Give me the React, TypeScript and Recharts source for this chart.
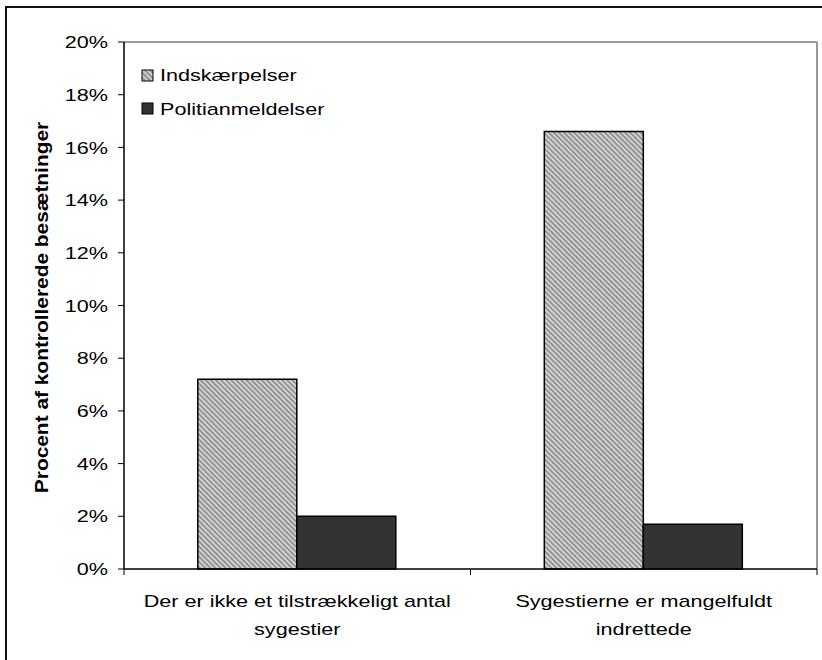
import { BarChart, Bar, XAxis, YAxis, Legend } from 'recharts'

// kategorier (to linjer pr. etiket som i originalen)
const categories = ['Der er ikke et tilstrækkeligt antal sygestier', 'Sygestierne er mangelfuldt indrettede']
const categoryLines = [
  ['Der er ikke et tilstrækkeligt antal', 'sygestier'],
  ['Sygestierne er mangelfuldt', 'indrettede'],
]
const seriesNames = ['Indskærpelser', 'Politianmeldelser']
const indskaerpelser = [0.072, 0.166]
const politianmeldelser = [0.02, 0.017]
const yTicks = [0, 0.02, 0.04, 0.06, 0.08, 0.1, 0.12, 0.14, 0.16, 0.18, 0.2]
const yAxisTitle = 'Procent af kontrollerede besætninger'

const data = categories.map((name, i) => ({
  name,
  ind: indskaerpelser[i],
  pol: politianmeldelser[i],
}))

const FONT = '"Liberation Sans", Arial, Helvetica, sans-serif'
const FONT_SIZE = 17
const STRETCH = 1.27 // teksten i originalen er strakt vandret

function YTick({ x, y, payload }: any) {
  return (
    <text
      transform={`translate(${x},${y}) scale(${STRETCH},1)`}
      textAnchor="end"
      dy="0.36em"
      fontSize={FONT_SIZE}
      fontFamily={FONT}
      fill="#000"
    >
      {`${Math.round(payload.value * 100)}%`}
    </text>
  )
}

function XTick({ x, y, payload, index, width, visibleTicksCount }: any) {
  const i = payload?.index ?? index
  const half = payload?.offset > 0 ? payload.offset : width / (visibleTicksCount * 2)
  const lines = categoryLines[i] || [String(payload.value)]
  return (
    <g>
      <line x1={x - half} x2={x - half} y1={y} y2={y + 6} stroke="#000" />
      {i === categories.length - 1 && <line x1={x + half} x2={x + half} y1={y} y2={y + 6} stroke="#000" />}
      <text
        transform={`translate(${x},${y + 38}) scale(${STRETCH},1)`}
        textAnchor="middle"
        fontSize={FONT_SIZE}
        fontFamily={FONT}
        fill="#000"
      >
        {lines.map((line, k) => (
          <tspan key={k} x={0} dy={k === 0 ? 0 : 28}>
            {line}
          </tspan>
        ))}
      </text>
    </g>
  )
}

function YLabel({ viewBox }: any) {
  const cx = (viewBox?.x ?? 0) + 48
  const cy = (viewBox?.y ?? 0) + (viewBox?.height ?? 0) / 2 + 2
  return (
    <text
      transform={`translate(${cx},${cy}) rotate(-90) scale(1.13,1)`}
      textAnchor="middle"
      fontSize={18.5}
      fontWeight="bold"
      fontFamily={FONT}
      fill="#000"
    >
      {yAxisTitle}
    </text>
  )
}

function LegendBox({ payload }: any) {
  const items = payload && payload.length ? payload : seriesNames.map((value) => ({ value }))
  return (
    <svg width={230} height={62} style={{ display: 'block' }}>
      {items.map((entry: any, i: number) => (
        <g key={i}>
          <rect
            x={4}
            y={8 + i * 33}
            width={11}
            height={11}
            fill={entry.color || (i === 0 ? 'url(#hatch)' : '#333')}
            stroke="#000"
            strokeWidth={1}
          />
          <text
            transform={`translate(22,${19 + i * 34}) scale(${STRETCH},1)`}
            fontSize={FONT_SIZE}
            fontFamily={FONT}
            fill="#000"
          >
            {entry.value}
          </text>
        </g>
      ))}
    </svg>
  )
}

export default function App() {
  return (
    <div style={{ position: 'absolute', left: 0, top: 0, width: 822, height: 660, overflow: 'hidden', background: '#fff' }}>
      <div
        style={{
          position: 'absolute',
          left: 5,
          top: 6,
          width: 840,
          height: 700,
          borderLeft: '2px solid #111',
          borderTop: '2px solid #111',
        }}
      />
      <BarChart
        width={822}
        height={660}
        data={data}
        margin={{ top: 41, right: 4, bottom: 0, left: 0 }}
        barCategoryGap="21.3%"
        barGap={0}
        style={{ position: 'absolute', left: 0, top: 0 }}
      >
        <defs>
          <pattern id="hatch" width={3.6} height={3.6} patternUnits="userSpaceOnUse" patternTransform="rotate(-45)">
            <rect width={3.6} height={3.6} fill="#939393" />
            <rect width={1.7} height={3.6} fill="#d6d6d6" />
          </pattern>
        </defs>
        <XAxis
          xAxisId="top"
          orientation="top"
          dataKey="name"
          height={1}
          tick={false}
          tickLine={false}
          axisLine={{ stroke: '#999', strokeWidth: 2 }}
        />
        <YAxis
          yAxisId="right"
          orientation="right"
          width={1}
          domain={[0, 0.2]}
          tick={false}
          tickLine={false}
          axisLine={{ stroke: '#999', strokeWidth: 2 }}
        />
        <XAxis
          dataKey="name"
          height={91}
          tickLine={false}
          tickSize={0}
          tickMargin={0}
          interval={0}
          axisLine={{ stroke: '#000', strokeWidth: 1.5 }}
          tick={<XTick />}
        />
        <YAxis
          width={124}
          domain={[0, 0.2]}
          ticks={yTicks}
          interval={0}
          tickSize={6}
          tickMargin={10}
          tickLine={{ stroke: '#000' }}
          axisLine={{ stroke: '#000', strokeWidth: 1.5 }}
          tick={<YTick />}
          label={<YLabel />}
        />
        <Legend
          layout="horizontal"
          verticalAlign="middle"
          align="center"
          wrapperStyle={{ left: 138, top: 62, width: 230, height: 62 }}
          content={<LegendBox />}
        />
        <Bar dataKey="ind" name={seriesNames[0]} fill="url(#hatch)" stroke="#000" strokeWidth={1.5} isAnimationActive={false} />
        <Bar dataKey="pol" name={seriesNames[1]} fill="#333333" stroke="#000" strokeWidth={1.5} isAnimationActive={false} />
      </BarChart>
    </div>
  )
}
